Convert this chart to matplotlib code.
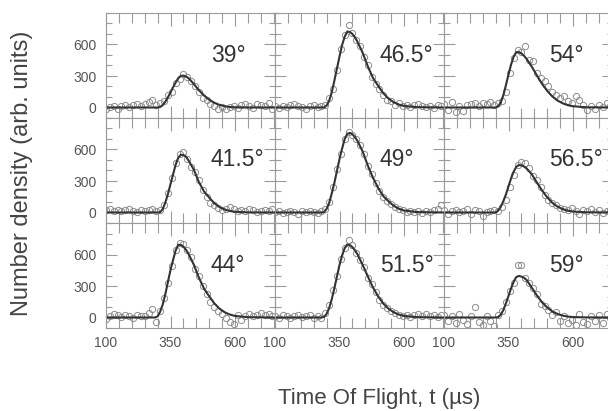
import matplotlib
matplotlib.use("Agg")
import matplotlib.pyplot as plt
from matplotlib.ticker import MultipleLocator, FixedLocator

plt.rcParams['font.family'] = ['Liberation Sans', 'DejaVu Sans']

# panel angles, row by row
angles = ['39°', '46.5°', '54°',
          '41.5°', '49°', '56.5°',
          '44°', '51.5°', '59°']

# measured time of flight points (us)
tof = [100, 115, 130, 145, 160, 175, 190, 205, 220, 235, 250, 265, 280, 295,
       310, 325, 340, 355, 370, 385, 400, 415, 430, 445, 460, 475, 490, 505,
       520, 535, 550, 565, 580, 595, 610, 625, 640, 655, 670, 685, 700, 715,
       730, 745]

dens_39 = [-15, 5, 10, -10, 15, 20, 5, 25, 30, 10, 35, 50, 70, 20,
           40, 60, 120, 150, 230, 270, 320, 290, 250, 200, 150, 95, 70, 30,
           10, -10, 5, -15, 0, 10, -5, 20, 35, 15, -5, 30, 25, 10, 40, -10]
dens_465 = [10, -5, 15, 0, 20, 35, 10, 5, -10, 15, 20, 0, 10, 25,
            90, 180, 360, 560, 690, 790, 710, 640, 590, 480, 400, 290, 220, 180,
            120, 70, 60, 20, 40, 10, 25, 5, 20, 30, 10, 0, 15, -5, 20, 10]
dens_54 = [30, -20, 50, -40, 10, -30, 20, 35, 40, 15, 45, 30, 50, 20,
           40, 60, 150, 330, 470, 545, 530, 590, 450, 440, 330, 280, 250, 200,
           150, 120, 90, 110, 60, 40, 110, 70, 20, -20, 10, -10, 25, 5, 45, 15]
dens_415 = [20, 30, 15, 25, 10, 20, 35, 15, 5, 25, 10, 20, 30, 15,
            20, 70, 190, 330, 470, 560, 575, 510, 430, 390, 310, 210, 150, 90,
            70, 40, 20, 35, 50, 30, 15, 25, 10, 30, 20, 0, 15, 25, 10, 30]
dens_49 = [5, 10, -5, 0, 15, 5, -10, 10, 0, 15, 5, -5, 10, 30,
           100, 240, 410, 560, 700, 770, 740, 700, 640, 560, 440, 370, 280, 200,
           150, 110, 80, 50, 30, 20, 5, 15, 0, 10, -5, 15, 5, 20, 30, 70]
dens_565 = [20, -10, 10, 25, 0, 15, 30, -15, 20, 10, -30, 5, 15, 25,
            10, 50, 120, 240, 360, 450, 480, 470, 420, 350, 310, 240, 170, 120,
            90, 70, 40, 30, 20, 40, 10, -10, 25, 15, 30, 5, 20, -5, 10, 25]
dens_44 = [-10, 15, 30, 20, 5, 25, 10, 0, 20, 15, 10, 40, 80, -45,
           60, 190, 330, 490, 640, 710, 700, 640, 580, 460, 400, 300, 220, 150,
           100, 60, 30, 0, -40, -60, 20, -20, 10, 30, 15, 25, 45, 20, 35, 10]
dens_515 = [15, 0, 20, 10, -5, 15, 25, 5, 10, 20, -5, 10, 0, 40,
            120, 260, 400, 560, 660, 740, 690, 610, 550, 480, 380, 320, 240, 170,
            120, 90, 60, 40, 20, 10, 25, 5, 20, 35, 15, 30, 10, 25, 5, 20]
dens_59 = [20, -30, 10, -50, 30, -20, -60, 15, 100, -40, -70, 10, -30, -80,
           20, 60, 150, 250, 330, 500, 500, 380, 330, 280, 220, 130, 110, 70,
           20, 50, -30, 10, -50, -20, -70, 30, -40, -60, 10, -30, 20, -50, 30, 0]

# fitted curves
fit_t = [100, 280, 290, 300, 310, 320, 330, 340, 350, 360, 370, 380, 390, 400,
         410, 420, 440, 460, 480, 500, 520, 540, 560, 580, 600, 650, 755]

fit_39 = [0, 0, 0, 0, 5, 24, 55, 97, 143, 193, 238, 278, 302, 303,
          295, 280, 225, 165, 115, 75, 45, 25, 12, 5, 2, 0, 0]
fit_465 = [0, 0, 0, 18, 65, 145, 254, 370, 486, 595, 674, 723, 720, 700,
           668, 625, 520, 390, 280, 205, 135, 85, 50, 28, 15, 3, 0]
fit_54 = [0, 0, 0, 0, 10, 48, 117, 213, 314, 410, 484, 527, 528, 515,
          493, 463, 390, 305, 225, 158, 105, 66, 40, 22, 12, 2, 0]
fit_415 = [0, 0, 0, 0, 3, 33, 94, 176, 270, 363, 456, 522, 550, 547,
           532, 495, 410, 290, 200, 142, 88, 52, 28, 14, 7, 1, 0]
fit_49 = [0, 0, 3, 34, 91, 182, 281, 395, 509, 608, 699, 749, 758, 745,
          718, 680, 580, 445, 330, 232, 155, 107, 64, 36, 19, 4, 0]
fit_565 = [0, 0, 0, 0, 18, 54, 108, 172, 249, 325, 389, 434, 452, 449,
           438, 420, 365, 285, 210, 145, 92, 56, 32, 17, 9, 2, 0]
fit_44 = [0, 0, 0, 10, 56, 125, 222, 340, 452, 549, 639, 692, 692, 675,
          645, 605, 505, 380, 275, 202, 134, 84, 50, 28, 15, 3, 0]
fit_515 = [0, 0, 5, 35, 90, 174, 278, 389, 500, 590, 660, 695, 690, 670,
           640, 600, 500, 390, 285, 200, 132, 84, 50, 28, 15, 3, 0]
fit_59 = [0, 0, 0, 0, 4, 26, 71, 135, 206, 278, 341, 385, 396, 390,
          378, 358, 285, 210, 145, 95, 58, 34, 18, 9, 4, 1, 0]

measured = [dens_39, dens_465, dens_54, dens_415, dens_49, dens_565,
            dens_44, dens_515, dens_59]
fits = [fit_39, fit_465, fit_54, fit_415, fit_49, fit_565,
        fit_44, fit_515, fit_59]

W, H = 608, 411
fig = plt.figure(figsize=(W / 100, H / 100), dpi=100)

x0, y0 = 106, 13      # top-left corner of the grid, pixels
cw, rh = 169, 105     # column width, row height
edge = '#9a9a9a'

for i in range(9):
    r, c = divmod(i, 3)
    ax = fig.add_axes([(x0 + c * cw) / W, 1 - (y0 + (r + 1) * rh) / H,
                       cw / W, rh / H])
    ax.plot(tof, measured[i], 'o', ms=4.5, mfc='none', mec='#8c8c8c', mew=0.7)
    ax.plot(fit_t, fits[i], color='#333333', lw=1.5)
    ax.set_xlim(100, 755)
    ax.set_ylim(-100, 900)
    ax.xaxis.set_major_locator(FixedLocator([100, 350, 600]))
    ax.xaxis.set_minor_locator(MultipleLocator(50))
    ax.yaxis.set_major_locator(FixedLocator([0, 300, 600]))
    ax.yaxis.set_minor_locator(MultipleLocator(100))
    ax.tick_params(which='both', direction='in', top=True, right=True,
                   color=edge, labelcolor='#555555', labelsize=10, width=0.8)
    ax.tick_params(axis='x', which='major', length=9, pad=6)
    ax.tick_params(axis='x', which='minor', length=7)
    ax.tick_params(axis='y', which='major', length=8, pad=7)
    ax.tick_params(axis='y', which='minor', length=4)
    for s in ax.spines.values():
        s.set_color(edge)
        s.set_linewidth(0.8)
    if c != 0:
        ax.tick_params(labelleft=False)
    if r != 2:
        ax.tick_params(labelbottom=False)
    ax.text(0.62, 0.6, angles[i], transform=ax.transAxes, fontsize=16.5,
            color='#333333', ha='left', va='center')

fig.text(22 / W, 1 - 173 / H, 'Number density (arb. units)', rotation=90,
         ha='center', va='center', fontsize=17, color='#444444')
fig.text(379 / W, 1 - 398 / H, 'Time Of Flight, t (µs)',
         ha='center', va='center', fontsize=16, color='#444444')

fig.savefig('out.png', dpi=100)
